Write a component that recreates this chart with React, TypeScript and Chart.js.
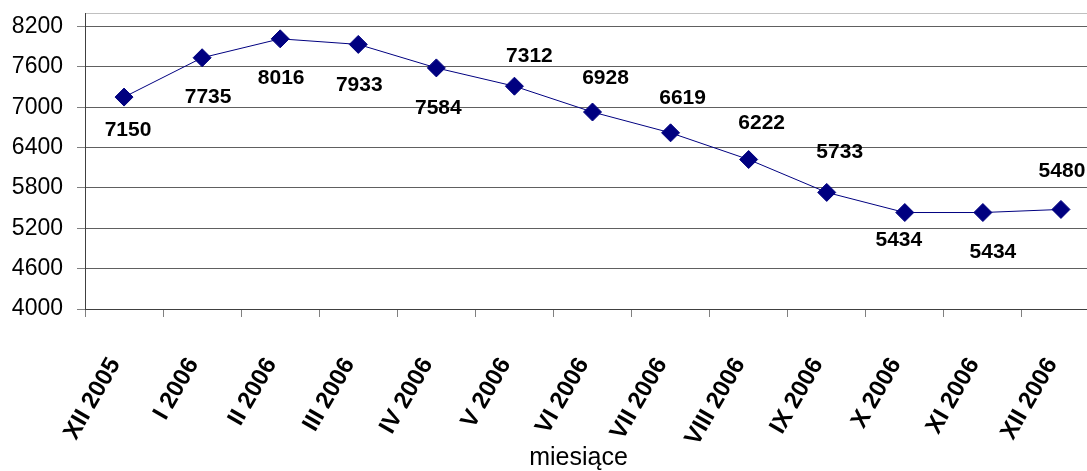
import React, { useEffect, useRef } from "react";
import { Chart, registerables } from "chart.js";

Chart.register(...registerables);

const categories = [
  "XII 2005", "I 2006", "II 2006", "III 2006", "IV 2006", "V 2006", "VI 2006",
  "VII 2006", "VIII 2006", "IX 2006", "X 2006", "XI 2006", "XII 2006",
];
const values = [7150, 7735, 8016, 7933, 7584, 7312, 6928, 6619, 6222, 5733, 5434, 5434, 5480];
const yTicks = [4000, 4600, 5200, 5800, 6400, 7000, 7600, 8200];
const yMin = 4000;
const yMax = 8400;
const axisTitle = "miesiące";

// label offsets from each point, in pixels
const labelDx = [4, 6, 1, 1, 2, 15, 13, 12, 13, 13, -6, 10, 1];
const labelDy = [33, 39, 39, 41, 40, -30, -34, -35, -36, -40, 28, 40, -38];

const FONT = "'Liberation Sans', Arial, sans-serif";

const dataLabelPlugin = {
  id: "dataLabels",
  afterDatasetsDraw(chart: any) {
    const ctx = chart.ctx;
    const meta = chart.getDatasetMeta(0);
    ctx.save();
    ctx.font = `bold 21px ${FONT}`;
    ctx.fillStyle = "#000";
    ctx.textAlign = "center";
    ctx.textBaseline = "middle";
    meta.data.forEach((pt: any, i: number) => {
      ctx.fillText(String(values[i]), pt.x + labelDx[i], pt.y + labelDy[i]);
    });
    ctx.restore();
  },
};

const axisTitlePlugin = {
  id: "axisTitleCustom",
  afterDraw(chart: any) {
    const ctx = chart.ctx;
    const { left, right } = chart.chartArea;
    ctx.save();
    ctx.font = `25px ${FONT}`;
    ctx.fillStyle = "#000";
    ctx.textAlign = "center";
    ctx.textBaseline = "alphabetic";
    ctx.fillText(axisTitle, (left + right) / 2 - 14, chart.height - 6);
    ctx.restore();
  },
};

export default function App() {
  const ref = useRef<HTMLCanvasElement>(null);
  useEffect(() => {
    if (!ref.current) return;
    const chart = new Chart(ref.current, {
      type: "line",
      data: {
        labels: categories,
        datasets: [
          {
            data: values,
            borderColor: "#000080",
            borderWidth: 1,
            backgroundColor: "#000080",
            pointStyle: "rectRot",
            pointRadius: 9,
            pointBorderWidth: 1,
            pointBackgroundColor: "#000080",
            pointBorderColor: "#000080",
            tension: 0,
          },
        ],
      },
      options: {
        responsive: false,
        animation: false,
        layout: { padding: { top: 13, right: 8, left: 0, bottom: 0 } },
        plugins: {
          legend: { display: false },
          tooltip: { enabled: false },
        },
        scales: {
          x: {
            offset: true,
            grid: {
              offset: true,
              drawOnChartArea: false,
              drawTicks: true,
              tickLength: 8,
              color: "#808080",
            },
            border: { color: "#404040", width: 1 },
            ticks: {
              autoSkip: false,
              maxRotation: 60,
              minRotation: 60,
              padding: 36,
              labelOffset: -9,
              color: "#000",
              font: { family: FONT, size: 24, weight: "bold" },
            },
            afterFit: (scale: any) => {
              scale.height = 162;
              scale.paddingLeft = 0;
              scale.paddingRight = 0;
            },
          },
          y: {
            min: yMin,
            max: yMax,
            afterBuildTicks: (scale: any) => {
              scale.ticks = [...yTicks, yMax].map((v) => ({ value: v }));
            },
            afterFit: (scale: any) => {
              scale.width = 85;
              scale.paddingTop = 0;
              scale.paddingBottom = 0;
            },
            grid: {
              color: (c: any) => (c.tick && c.tick.value === yMax ? "#c0c0c0" : "#606060"),
              tickColor: (c: any) => (c.tick && c.tick.value === yMax ? "rgba(0,0,0,0)" : "#808080"),
              tickLength: 8,
              lineWidth: 1,
            },
            border: { color: "#404040", width: 1 },
            ticks: {
              padding: 14,
              color: "#000",
              font: { family: FONT, size: 23 },
              callback: (v: any) => (yTicks.includes(Number(v)) ? String(v) : ""),
            },
          },
        },
      },
      plugins: [dataLabelPlugin, axisTitlePlugin],
    });
    return () => chart.destroy();
  }, []);
  return (
    <div
      style={{
        position: "absolute",
        left: 0,
        top: 0,
        width: 1087,
        height: 471,
        overflow: "hidden",
        background: "#fff",
      }}
    >
      <canvas ref={ref} width={1110} height={471} style={{ display: "block" }} />
    </div>
  );
}
